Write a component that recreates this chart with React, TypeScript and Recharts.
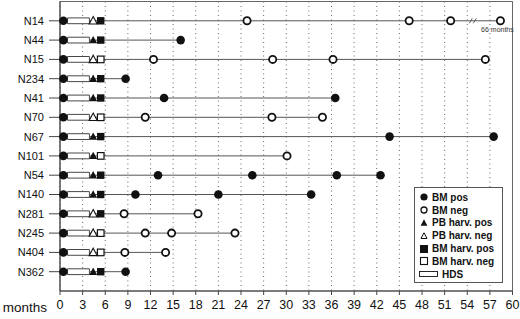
import React from 'react';
import {
  ScatterChart,
  Scatter,
  XAxis,
  YAxis,
  CartesianGrid,
  ReferenceLine,
  ReferenceArea,
  ReferenceDot,
} from 'recharts';

const patients = ['N14', 'N44', 'N15', 'N234', 'N41', 'N70', 'N67', 'N101', 'N54', 'N140', 'N281', 'N245', 'N404', 'N362'];
// last follow-up (months) for each patient
const lastVisit = [58.4, 16.0, 56.4, 8.7, 36.5, 34.8, 57.5, 30.1, 42.5, 33.3, 18.3, 23.2, 14.0, 8.7];
// follow-up marrow results after transplant
const bmPosVisits: number[][] = [
  [], [16.0], [], [8.7], [13.8, 36.5], [], [43.7, 57.5], [],
  [13.0, 25.5, 36.7, 42.5], [10.0, 21.0, 33.3], [], [], [], [8.7],
];
const bmNegVisits: number[][] = [
  [24.8, 46.3, 51.8, 58.4], [], [12.4, 28.2, 36.2, 56.4], [], [], [11.3, 28.1, 34.8], [], [30.1],
  [], [], [8.5, 18.3], [11.3, 14.8, 23.2], [8.6, 14.0], [],
];
const pbHarvPositive = [false, true, false, true, true, false, true, true, true, true, false, false, false, true];
const bmHarvPositive = [true, true, false, true, true, false, true, false, true, true, true, false, false, true];
const monthTicks = [0, 3, 6, 9, 12, 15, 18, 21, 24, 27, 30, 33, 36, 39, 42, 45, 48, 51, 54, 57, 60];

const DIAGNOSIS_MONTH = 0.45;
const HDS_START = 1.0;
const HDS_END = 3.9;
const PB_HARV_MONTH = 4.4;
const BM_HARV_MONTH = 5.4;
const N14_BREAK = 54.8;
const N14_REAL_FOLLOWUP = '66 months';

const INK = '#111111';
const LINE = '#555555';
const FONT = 'Arial, "Liberation Sans", Helvetica, sans-serif';

const rowTicks = patients.map((_, i) => i + 1);

const bmPosData = patients.flatMap((_, i) =>
  [DIAGNOSIS_MONTH, ...bmPosVisits[i]].map((m) => ({ x: m, y: i + 1 })),
);
const bmNegData = patients.flatMap((_, i) => bmNegVisits[i].map((m) => ({ x: m, y: i + 1 })));
const pbPosData = patients.flatMap((_, i) => (pbHarvPositive[i] ? [{ x: PB_HARV_MONTH, y: i + 1 }] : []));
const pbNegData = patients.flatMap((_, i) => (!pbHarvPositive[i] ? [{ x: PB_HARV_MONTH, y: i + 1 }] : []));
const bmHarvPosData = patients.flatMap((_, i) => (bmHarvPositive[i] ? [{ x: BM_HARV_MONTH, y: i + 1 }] : []));
const bmHarvNegData = patients.flatMap((_, i) => (!bmHarvPositive[i] ? [{ x: BM_HARV_MONTH, y: i + 1 }] : []));

type Pt = { cx?: number; cy?: number };

const FilledCircle = (p: Pt) => <circle cx={p.cx} cy={p.cy} r={4.3} fill={INK} />;
const OpenCircle = (p: Pt) => <circle cx={p.cx} cy={p.cy} r={3.6} fill="#fff" stroke={INK} strokeWidth={1.8} />;
const triPath = (cx: number, cy: number) => `M${cx},${cy - 4.2} L${cx + 4},${cy + 3.2} L${cx - 4},${cy + 3.2} Z`;
const FilledTri = (p: Pt) => <path d={triPath(Number(p.cx), Number(p.cy))} fill={INK} />;
const OpenTri = (p: Pt) => <path d={triPath(Number(p.cx), Number(p.cy))} fill="#fff" stroke={INK} strokeWidth={1.1} />;
const FilledSq = (p: Pt) => <rect x={Number(p.cx) - 3.7} y={Number(p.cy) - 3.7} width={7.4} height={7.4} fill={INK} />;
const OpenSq = (p: Pt) => (
  <rect x={Number(p.cx) - 3.3} y={Number(p.cy) - 3.3} width={6.6} height={6.6} fill="#fff" stroke={INK} strokeWidth={1.2} />
);

const BreakMark = (p: Pt) => {
  const cx = Number(p.cx);
  const cy = Number(p.cy);
  return (
    <g stroke={LINE} strokeWidth={0.9}>
      <line x1={cx - 4} y1={cy + 2.5} x2={cx - 1} y2={cy - 2.5} />
      <line x1={cx} y1={cy + 2.5} x2={cx + 3} y2={cy - 2.5} />
    </g>
  );
};

const RealFollowUp = (p: Pt) => (
  <text x={Number(p.cx) - 3} y={Number(p.cy) + 11} fontSize={7} fill="#333" textAnchor="middle" fontFamily={FONT}>
    {N14_REAL_FOLLOWUP}
  </text>
);

const legendItems: { label: string; icon: React.ReactNode }[] = [
  { label: 'BM pos', icon: <circle cx={6} cy={6} r={3.6} fill={INK} /> },
  { label: 'BM neg', icon: <circle cx={6} cy={6} r={3} fill="#fff" stroke={INK} strokeWidth={1.3} /> },
  { label: 'PB harv. pos', icon: <path d="M6,2.3 L9.4,8.8 L2.6,8.8 Z" fill={INK} /> },
  { label: 'PB harv. neg', icon: <path d="M6,2.8 L9,8.5 L3,8.5 Z" fill="#fff" stroke={INK} strokeWidth={1} /> },
  { label: 'BM harv. pos', icon: <rect x={2} y={2} width={8} height={8} fill={INK} /> },
  { label: 'BM harv. neg', icon: <rect x={2.5} y={2.5} width={7} height={7} fill="#fff" stroke={INK} strokeWidth={1.1} /> },
];

function ChartLegend() {
  return (
    <div
      style={{
        position: 'absolute',
        left: 414,
        top: 187,
        width: 89,
        height: 96,
        border: `1px solid ${LINE}`,
        background: '#fff',
        fontFamily: FONT,
        fontSize: 10,
        fontWeight: 'bold',
        color: INK,
        padding: '3px 0 0 3px',
        boxSizing: 'border-box',
      }}
    >
      {legendItems.map((it) => (
        <div key={it.label} style={{ display: 'flex', alignItems: 'center', height: 12.8, whiteSpace: 'nowrap' }}>
          <svg width={12} height={12} style={{ marginRight: 2 }}>
            {it.icon}
          </svg>
          {it.label}
        </div>
      ))}
      <div style={{ display: 'flex', alignItems: 'center', height: 12.8 }}>
        <svg width={21} height={12} style={{ marginRight: 3 }}>
          <rect x={1.5} y={3.5} width={18} height={5} fill="#fff" stroke={INK} strokeWidth={0.9} />
        </svg>
        HDS
      </div>
    </div>
  );
}

export default function App() {
  return (
    <div style={{ position: 'absolute', left: 0, top: 0, width: 520, height: 319, background: '#fff' }}>
      <ScatterChart width={520} height={319} margin={{ top: 1.5, right: 7.5, left: 0, bottom: 6 }}>
        <CartesianGrid horizontal={false} stroke="#666" strokeDasharray="1 3.5" />
        <ReferenceArea x1={0} x2={60} y1={0} y2={15} fill="none" fillOpacity={0} stroke="#666" strokeWidth={1} />
        <XAxis
          type="number"
          dataKey="x"
          domain={[0, 60]}
          ticks={monthTicks}
          interval={0}
          height={22}
          tickSize={4}
          tickMargin={5}
          stroke="#444"
          tick={{ fontSize: 12.5, fill: INK, fontFamily: FONT }}
          label={{ value: 'months', position: 'left', offset: 13, dy: 5, fontSize: 13.5, fill: INK, fontFamily: FONT }}
        />
        <YAxis
          type="number"
          dataKey="y"
          domain={[0, 15]}
          reversed
          ticks={rowTicks}
          interval={0}
          width={60}
          tickSize={11}
          tickMargin={5}
          stroke="#444"
          tickFormatter={(v: number) => patients[v - 1] ?? ''}
          tick={{ fontSize: 11, fill: INK, fontFamily: FONT, fontWeight: 500 }}
        />
        {patients.map((p, i) => (
          <ReferenceLine
            key={`a-${p}`}
            segment={[{ x: 0, y: i + 1 }, { x: HDS_START, y: i + 1 }]}
            stroke={LINE}
            strokeWidth={1}
          />
        ))}
        {patients.map((p, i) => (
          <ReferenceLine
            key={`b-${p}`}
            segment={[{ x: HDS_END, y: i + 1 }, { x: lastVisit[i], y: i + 1 }]}
            stroke={LINE}
            strokeWidth={1}
          />
        ))}
        {patients.map((p, i) => (
          <ReferenceArea
            key={`hds-${p}`}
            x1={HDS_START}
            x2={HDS_END}
            y1={i + 1 - 0.15}
            y2={i + 1 + 0.15}
            fill="#fff"
            fillOpacity={1}
            stroke="#333"
            strokeWidth={0.9}
          />
        ))}
        <ReferenceDot x={N14_BREAK} y={1} r={0} shape={BreakMark} />
        <ReferenceDot x={lastVisit[0]} y={1} r={0} shape={RealFollowUp} />
        <Scatter data={bmPosData} shape={FilledCircle} isAnimationActive={false} />
        <Scatter data={bmNegData} shape={OpenCircle} isAnimationActive={false} />
        <Scatter data={pbPosData} shape={FilledTri} isAnimationActive={false} />
        <Scatter data={pbNegData} shape={OpenTri} isAnimationActive={false} />
        <Scatter data={bmHarvPosData} shape={FilledSq} isAnimationActive={false} />
        <Scatter data={bmHarvNegData} shape={OpenSq} isAnimationActive={false} />
      </ScatterChart>
      <ChartLegend />
    </div>
  );
}
